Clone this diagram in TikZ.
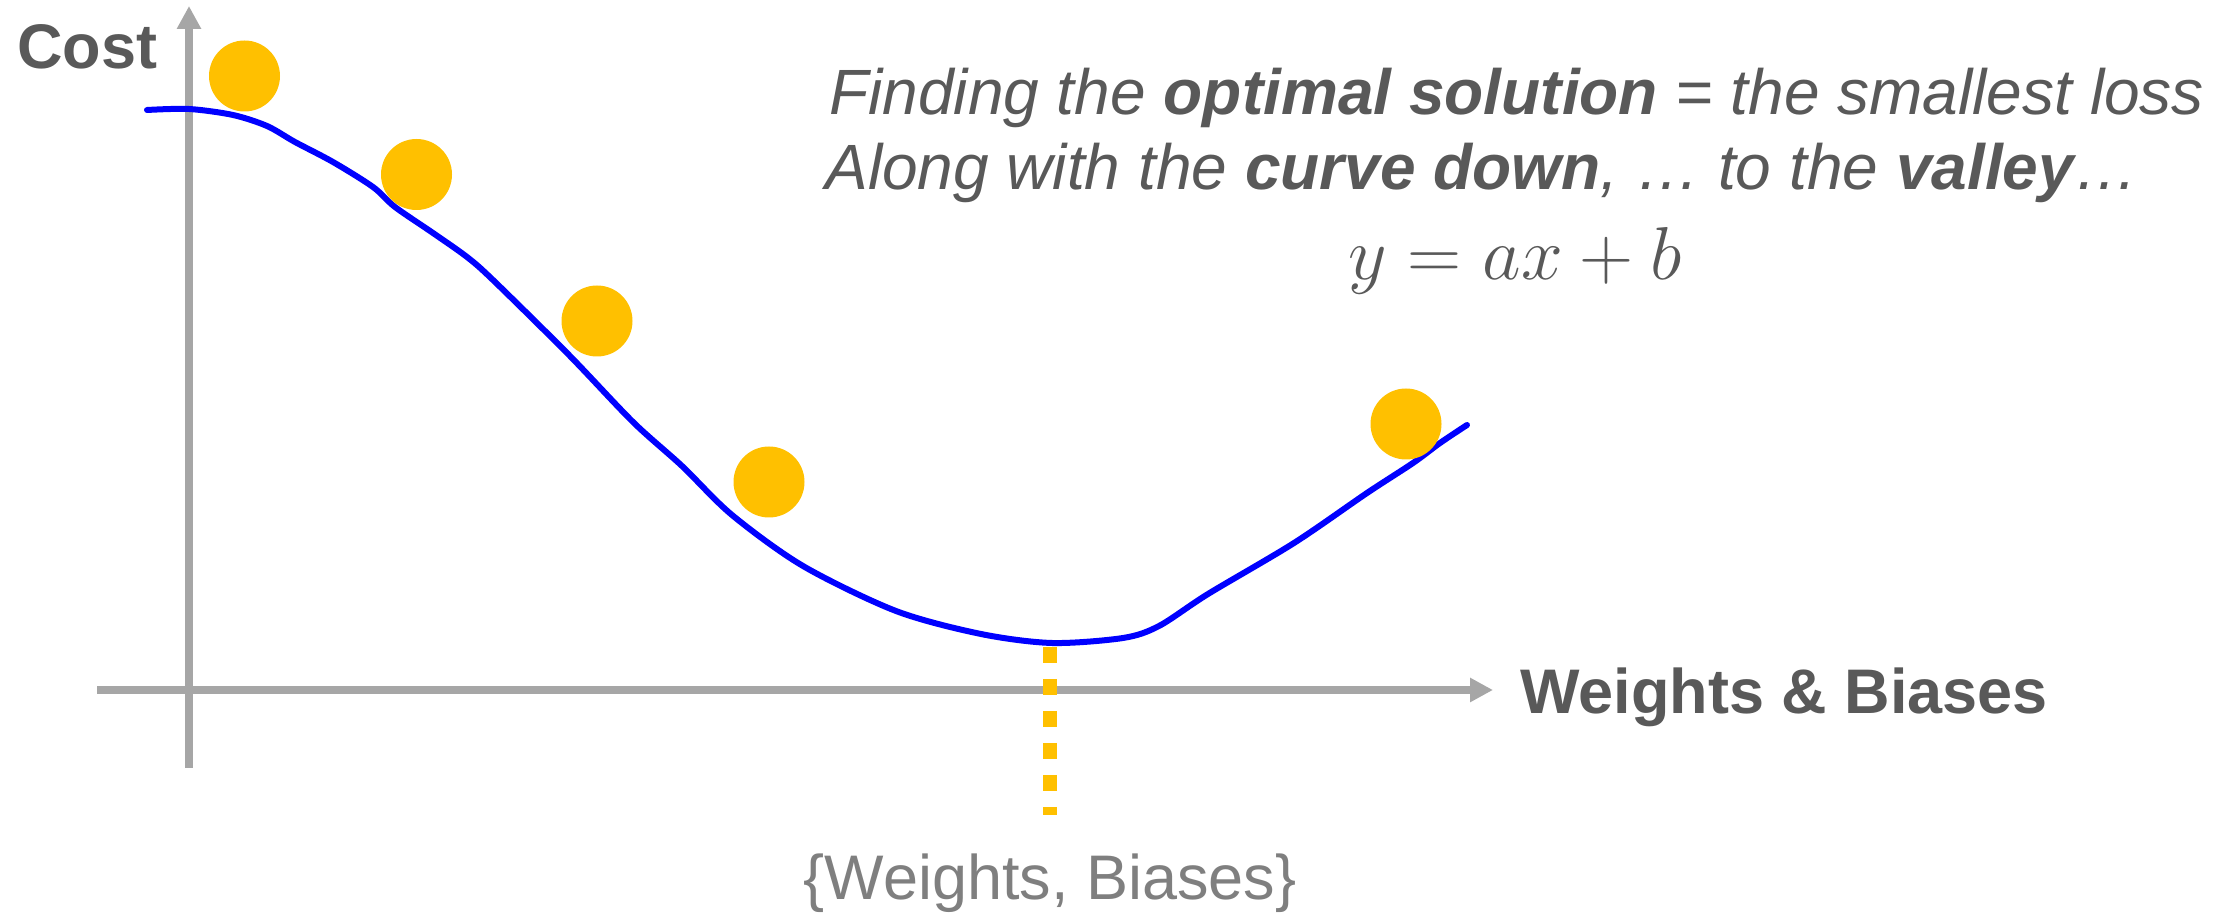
\documentclass[tikz,border=0pt]{standalone}
\usepackage{fontspec}
\setmainfont{Liberation Sans}
\usetikzlibrary{arrows.meta}
\definecolor{axisgray}{HTML}{A6A6A6}
\definecolor{textgray}{HTML}{595959}
\definecolor{lightgray}{HTML}{7F7F7F}
\definecolor{ballyellow}{HTML}{FFC000}
\definecolor{curveblue}{HTML}{0000FF}
\tikzset{
  axisline/.style={draw=axisgray, line width=4pt, -{Triangle[length=11.5pt,width=11.5pt]}},
  ball/.style={circle, fill=ballyellow, draw=none, minimum size=35.5pt, inner sep=0pt},
  boldlabel/.style={text=textgray, font=\fontsize{31.5}{36}\bfseries\selectfont, inner sep=0pt},
  caption/.style={text=textgray, font=\fontsize{32}{38}\itshape\selectfont, inner sep=0pt, anchor=base west},
  costcurve/.style={draw=curveblue, line width=3pt, line cap=round, line join=round},
  optline/.style={draw=ballyellow, line width=7pt, dash pattern=on 8pt off 8pt}
}
\begin{document}
\begin{tikzpicture}[x=0.5pt,y=-0.5pt]
\useasboundingbox (0,0) rectangle (2229,913);
% axes
\coordinate (xstart) at (97,690);
\coordinate (xend) at (1493,690);
\coordinate (ystart) at (189,768);
\coordinate (yend) at (189,6);
\draw[axisline] (xstart) -- (xend);
\draw[axisline] (ystart) -- (yend);
% optimum dotted line
\coordinate (opttop) at (1050,647);
\coordinate (optbot) at (1050,815);
\draw[optline] (opttop) -- (optbot);
% cost curve
\draw[costcurve] plot[smooth, tension=0.5] coordinates {
 (147,110) (189,109) (233,115) (267,126) (295,142) (333,162) (373,187) (395,207)
 (433,233) (467,257) (493,280) (569,355) (633,422) (682,466) (732,515) (803,566)
 (896,611) (981,634) (1052,643) (1123,638) (1159,626) (1208,594) (1294,543)
 (1367,493) (1413,463) (1440,443) (1467,425)};
% balls
\node[ball] (b1) at (244.5,76) {};
\node[ball] (b2) at (416.5,174.5) {};
\node[ball] (b3) at (597,321) {};
\node[ball] (b4) at (769,482) {};
\node[ball] (b5) at (1406,424) {};
% labels
\node[boldlabel, anchor=base west] (cost) at (17,69) {Cost};
\node[boldlabel, anchor=base west] (wb) at (1520,714) {Weights \& Biases};
\node[caption] (line1) at (829,115) {Finding the \textbf{optimal solution} = the smallest loss};
\node[caption] (line2) at (825,190) {Along with the \textbf{curve down}, … to the \textbf{valley}…};
\node[text=textgray, inner sep=0pt, anchor=base] (eq) at (1515,280) {\scalebox{1.507}{\Huge $y = ax + b$}};
\node[text=lightgray, inner sep=0pt, anchor=base, font=\fontsize{31.5}{36}\selectfont] (wbset) at (1050,900) {\{Weights, Biases\}};
\end{tikzpicture}
\end{document}
